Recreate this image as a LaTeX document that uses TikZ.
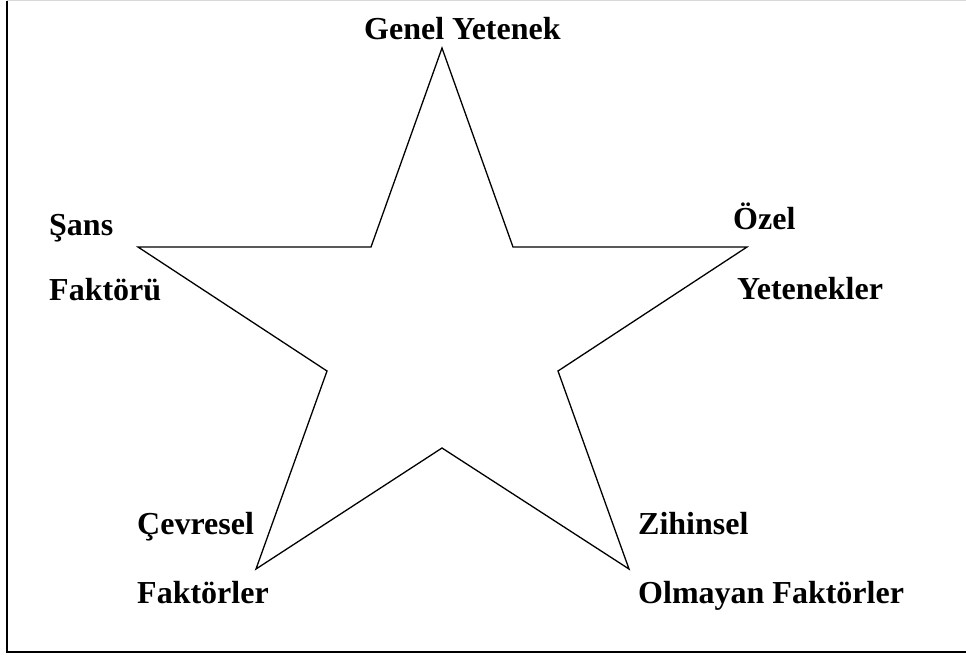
\documentclass[tikz,border=0pt]{standalone}
\usepackage{fontspec}
\setmainfont{Liberation Serif}
\begin{document}
\begin{tikzpicture}[x=1pt,y=-1pt,
  lbl/.style={anchor=base west,inner sep=0pt,font=\fontsize{32}{36}\selectfont\bfseries},
  starline/.style={line width=1.3pt,line join=miter}]
\useasboundingbox (0,0) rectangle (966,657);
% frame
\draw[line width=1.6pt] (7,0.8) -- (7,652) -- (966,652);
\draw[line width=1pt,black!15] (7,0.5) -- (966,0.5);
% star vertices
\coordinate (t) at (442,48);
\coordinate (ir) at (513,247);
\coordinate (r) at (747,247);
\coordinate (irl) at (558,371);
\coordinate (br) at (629,569);
\coordinate (b) at (442,448);
\coordinate (bl) at (256,569);
\coordinate (ill) at (327,371);
\coordinate (l) at (138,247);
\coordinate (il) at (371,247);
\draw[starline] (t) -- (ir) -- (r) -- (irl) -- (br) -- (b) -- (bl) -- (ill) -- (l) -- (il) -- cycle;
% labels
\node[lbl] (gy) at (364,39) {Genel Yetenek};
\node[lbl] (s1) at (49,235) {Şans};
\node[lbl] (s2) at (49,300) {Faktörü};
\node[lbl] (o1) at (733,229) {Özel};
\node[lbl] (o2) at (737,299) {Yetenekler};
\node[lbl] (c1) at (137,534) {Çevresel};
\node[lbl] (c2) at (137,603) {Faktörler};
\node[lbl] (z1) at (638,534) {Zihinsel};
\node[lbl] (z2) at (638,603) {Olmayan Faktörler};
\end{tikzpicture}
\end{document}
